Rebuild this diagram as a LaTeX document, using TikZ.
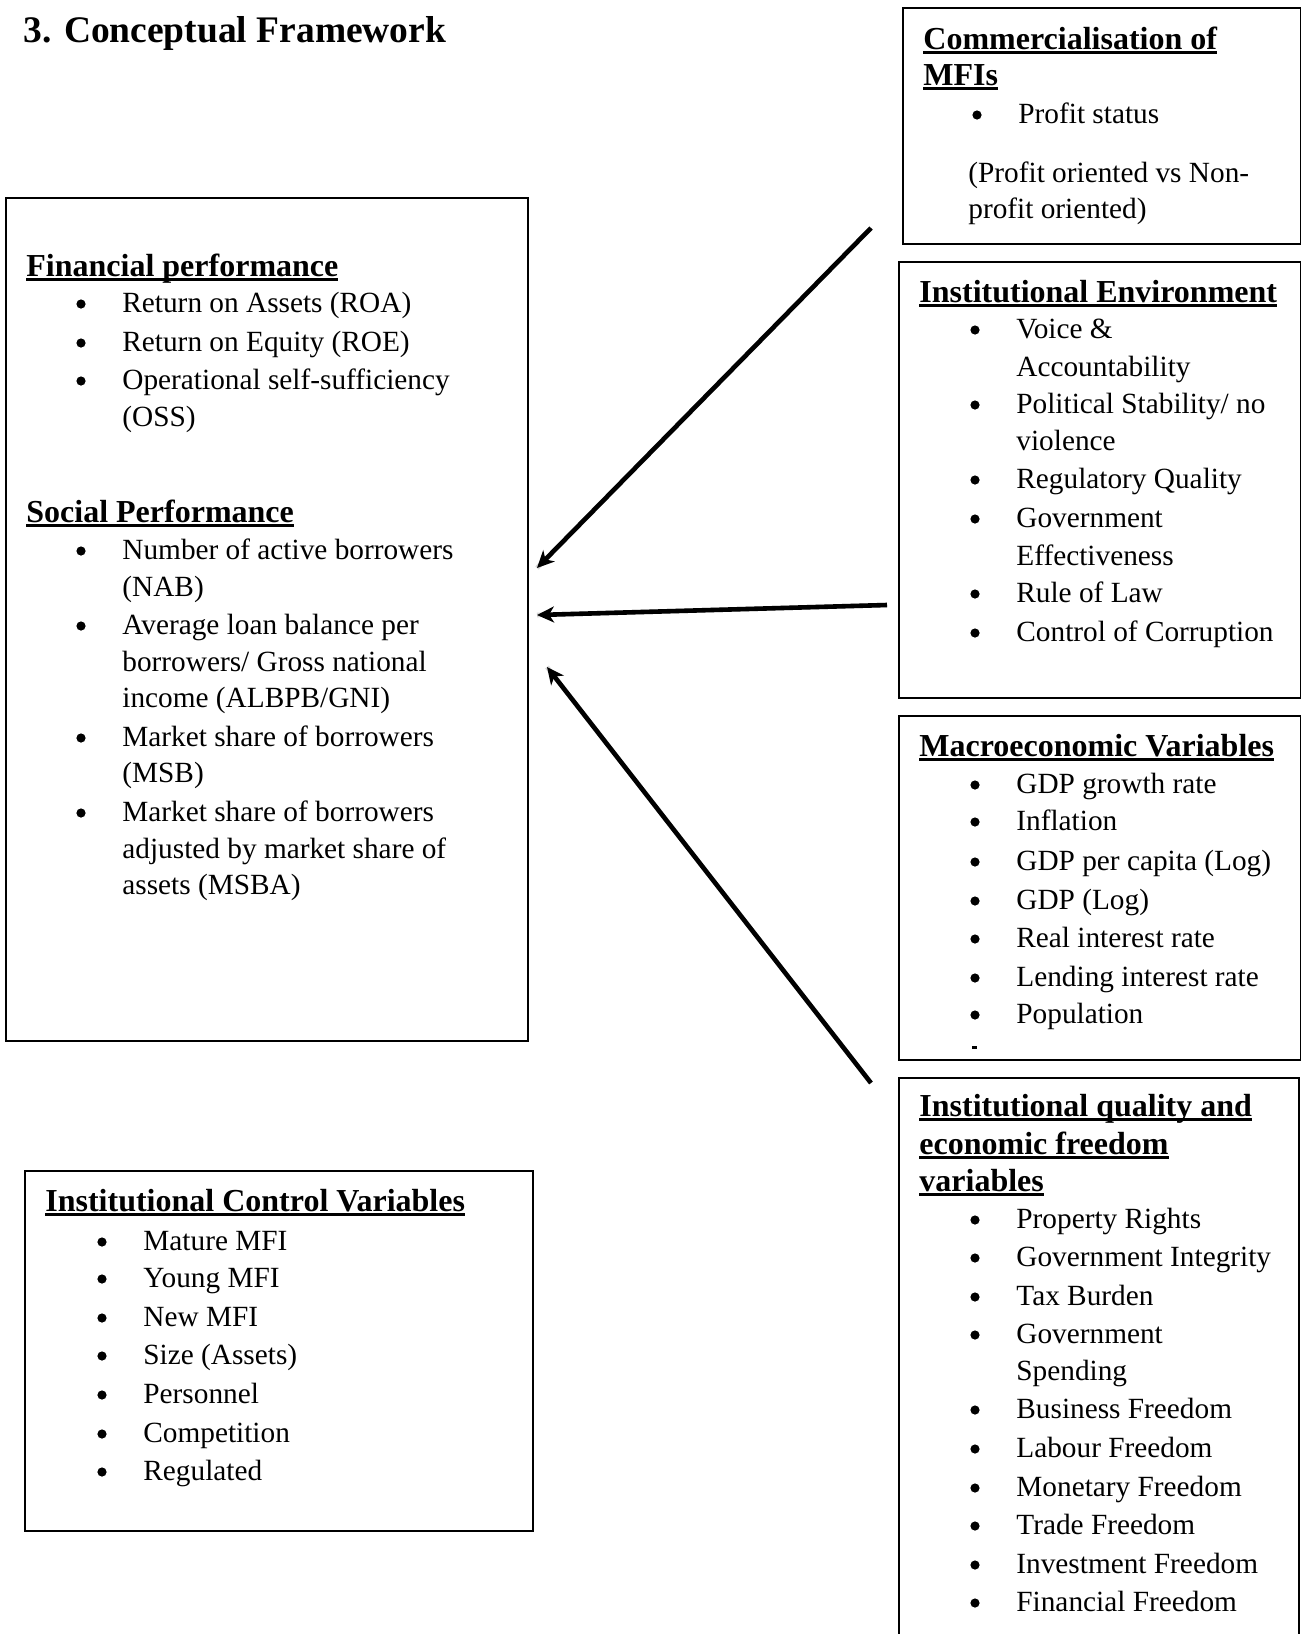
\documentclass[tikz,border=0pt]{standalone}
\usepackage{fontspec}
\setmainfont{Liberation Serif}
\usetikzlibrary{arrows.meta}
\newcommand\hul[1]{\setbox0=\hbox{#1}\rlap{\rule[-2.6pt]{\wd0}{1.4pt}}\box0}
\newcommand\bodyf{\fontsize{14.65pt}{19pt}\selectfont}
\newcommand\headf{\fontsize{16pt}{19pt}\selectfont\bfseries}
% bullet item: name, bullet-left x, baseline y, text
\newcommand\bitem[4]{%
  \node[txt] (#1) at (#2+46,#3) {#4};
  \fill (#2+5,#3-8) circle (2.3pt);}
\begin{document}
\begin{tikzpicture}[x=0.5pt,y=-0.5pt,
  box/.style={draw,line width=1pt,inner sep=0pt,anchor=north west},
  txt/.style={anchor=base west,inner sep=0pt,font=\bodyf},
  hd/.style={anchor=base west,inner sep=0pt,font=\headf},
  arr/.style={line width=2.3pt,-{Stealth[length=8.5pt,width=8pt,inset=2.5pt]}},
  shad/.style={line width=2.3pt,black!15}]
\useasboundingbox (0,0) rectangle (1301,1634);
\fill[white] (0,0) rectangle (1301,1634);

% title
\node[anchor=base west,inner sep=0pt,font=\fontsize{18.75pt}{22pt}\selectfont\bfseries] (title) at (23,42) {3. Conceptual Framework};

% boxes
\node[box,minimum width=199pt,minimum height=118pt] (comm) at (902,7) {};
\node[box,minimum width=201pt,minimum height=218pt] (env) at (898,261) {};
\node[box,minimum width=201pt,minimum height=172pt] (macro) at (898,715) {};
\node[box,minimum width=200pt,minimum height=300pt] (qual) at (898,1077) {};
\node[box,minimum width=261pt,minimum height=421.5pt] (perf) at (5,197) {};
\node[box,minimum width=254pt,minimum height=180pt] (ctrl) at (24,1170) {};

% Commercialisation
\node[hd] (c0) at (923,49) {\hul{Commercialisation of}};
\node[hd] (c1) at (923,85) {\hul{MFIs}};
\bitem{c2}{972}{123}{Profit status}
\node[txt] (c3) at (968,182) {(Profit oriented vs Non-};
\node[txt] (c4) at (968,218) {profit oriented)};

% Institutional Environment
\node[hd] (e0) at (919,302) {\hul{Institutional Environment}};
\bitem{e1}{970}{338}{Voice \&}
\node[txt] (e2) at (1016,376) {Accountability};
\bitem{e3}{970}{413}{Political Stability/ no}
\node[txt] (e4) at (1016,450) {violence};
\bitem{e5}{970}{488}{Regulatory Quality}
\bitem{e6}{970}{527}{Government}
\node[txt] (e7) at (1016,565) {Effectiveness};
\bitem{e8}{970}{602}{Rule of Law}
\bitem{e9}{970}{641}{Control of Corruption}

% Macroeconomic
\node[hd] (m0) at (919,756) {\hul{Macroeconomic Variables}};
\bitem{m1}{970}{793}{GDP growth rate}
\bitem{m2}{970}{830}{Inflation}
\bitem{m3}{970}{870}{GDP per capita (Log)}
\bitem{m4}{970}{909}{GDP (Log)}
\bitem{m5}{970}{947}{Real interest rate}
\bitem{m6}{970}{986}{Lending interest rate}
\bitem{m7}{970}{1023}{Population}
\fill (972,1046) rectangle (977,1049);

% Institutional quality
\node[hd] (q0) at (919,1116) {\hul{Institutional quality and}};
\node[hd] (q1) at (919,1154) {\hul{economic freedom}};
\node[hd] (q2) at (919,1191) {\hul{variables}};
\bitem{q3}{970}{1228}{Property Rights}
\bitem{q4}{970}{1266}{Government Integrity}
\bitem{q5}{970}{1305}{Tax Burden}
\bitem{q6}{970}{1343}{Government}
\node[txt] (q7) at (1016,1380) {Spending};
\bitem{q8}{970}{1418}{Business Freedom}
\bitem{q9}{970}{1457}{Labour Freedom}
\bitem{q10}{970}{1496}{Monetary Freedom}
\bitem{q11}{970}{1534}{Trade Freedom}
\bitem{q12}{970}{1573}{Investment Freedom}
\bitem{q13}{970}{1611}{Financial Freedom}

% Performance
\node[hd] (p0) at (26,276) {\hul{Financial performance}};
\bitem{p1}{76}{312}{Return on Assets (ROA)}
\bitem{p2}{76}{351}{Return on Equity (ROE)}
\bitem{p3}{76}{389}{Operational self-sufficiency}
\node[txt] (p4) at (122,426) {(OSS)};
\node[hd] (s0) at (26,522) {\hul{Social Performance}};
\bitem{s1}{76}{559}{Number of active borrowers}
\node[txt] (s2) at (122,596) {(NAB)};
\bitem{s3}{76}{634}{Average loan balance per}
\node[txt] (s4) at (122,671) {borrowers/ Gross national};
\node[txt] (s5) at (122,707) {income (ALBPB/GNI)};
\bitem{s6}{76}{746}{Market share of borrowers}
\node[txt] (s7) at (122,782) {(MSB)};
\bitem{s8}{76}{821}{Market share of borrowers}
\node[txt] (s9) at (122,858) {adjusted by market share of};
\node[txt] (s10) at (122,894) {assets (MSBA)};

% Institutional control
\node[hd] (k0) at (45,1211) {\hul{Institutional Control Variables}};
\bitem{k1}{97}{1250}{Mature MFI}
\bitem{k2}{97}{1287}{Young MFI}
\bitem{k3}{97}{1326}{New MFI}
\bitem{k4}{97}{1364}{Size (Assets)}
\bitem{k5}{97}{1403}{Personnel}
\bitem{k6}{97}{1442}{Competition}
\bitem{k7}{97}{1480}{Regulated}

% arrows
\coordinate (a1s) at (871,228);
\coordinate (a1e) at (537,568);
\coordinate (a2s) at (887,605);
\coordinate (a2e) at (537,615);
\coordinate (a3s) at (871,1083);
\coordinate (a3e) at (547,667);
\begin{scope}[shift={(1.5,2)}]
\draw[shad] (a1s) -- (a1e);
\draw[shad] (a2s) -- (a2e);
\draw[shad] (a3s) -- (a3e);
\end{scope}
\draw[arr] (a1s) -- (a1e);
\draw[arr] (a2s) -- (a2e);
\draw[arr] (a3s) -- (a3e);
\end{tikzpicture}
\end{document}
